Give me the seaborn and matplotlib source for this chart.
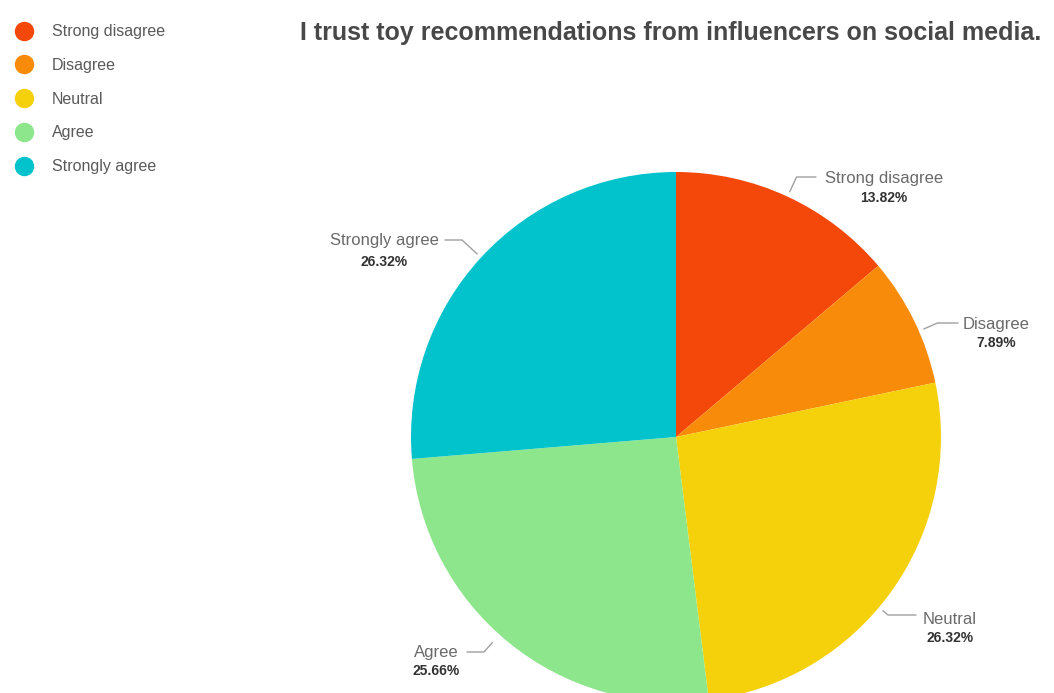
import numpy as np
import matplotlib
matplotlib.use("Agg")
import matplotlib.pyplot as plt
from matplotlib.lines import Line2D
import seaborn as sns

categories = ["Strong disagree", "Disagree", "Neutral", "Agree", "Strongly agree"]
percentages = [13.82, 7.89, 26.32, 25.66, 26.32]
pct_labels = ["13.82%", "7.89%", "26.32%", "25.66%", "26.32%"]
colors = ["#F4480A", "#F98B0A", "#F5D10C", "#8DE68B", "#02C3CB"]
title = "I trust toy recommendations from influencers on social media."

sns.set_theme(style="white")
plt.rcParams["font.family"] = ["Liberation Sans", "DejaVu Sans"]

W, H = 1054, 693
fig = plt.figure(figsize=(W / 100, H / 100), dpi=100)
fig.patch.set_facecolor("white")

# pie geometry in reference pixels
cx, cy, R = 676, 437, 265
ax = fig.add_axes([(cx - R) / W, (H - cy - R) / H, 2 * R / W, 2 * R / H])
ax.axis("off")

wedges, _ = ax.pie(percentages, colors=colors, startangle=90, counterclock=False,
                   radius=1.0, wedgeprops=dict(linewidth=0))
ax.set_xlim(-1, 1)
ax.set_ylim(-1, 1)
ax.set_aspect("equal")


def px2d(px, py):
    return ((px - cx) / R, (cy - py) / R)


# label layout: line end px, name center px, pct center px, anchor angle shift, anchor radius
layout = [
    ((816, 177), (884, 178), (884, 198), 0.0, 1.02),
    ((958, 323), (996, 324), (996, 343), -2.5, 1.02),
    ((916, 615), (950, 619), (950, 638), -4.5, 1.02),
    ((467, 652), (436, 652), (436, 671), -2.7, 1.04),
    ((445, 240), (384, 241), (384, 262), 0.0, 1.02),
]
line_color = "#a0a0a0"
for w, (lend, tname, tpct, dth, rr), name, pl in zip(wedges, layout, categories, pct_labels):
    theta = (w.theta1 + w.theta2) / 2.0 + dth
    ex, ey = rr * np.cos(np.radians(theta)), rr * np.sin(np.radians(theta))
    ax.annotate("", xy=(ex, ey), xytext=px2d(*lend), xycoords="data",
                textcoords="data",
                arrowprops=dict(arrowstyle="-", color=line_color, lw=1.0,
                                shrinkA=0, shrinkB=0,
                                connectionstyle=f"angle,angleA=0,angleB={theta:.1f},rad=0"),
                annotation_clip=False)
    ax.text(*px2d(*tname), name, ha="center", va="center", fontsize=12,
            color="#6a6a6a", clip_on=False)
    ax.text(*px2d(*tpct), pl, ha="center", va="center", fontsize=10,
            color="#333333", fontweight="bold", clip_on=False)

fig.text(300 / W, 1 - 33 / H, title, ha="left", va="center", fontsize=18,
         fontweight="bold", color="#484848")

handles = [Line2D([0], [0], marker="o", linestyle="none", markersize=13,
                  markerfacecolor=c, markeredgecolor=c) for c in colors]
fig.legend(handles, categories, loc="upper left",
           bbox_to_anchor=(8 / W, 1 - 18 / H), frameon=False, fontsize=11.5,
           labelspacing=1.17, handletextpad=1.15, handlelength=1.2,
           labelcolor="#5a5a5a", borderaxespad=0)

fig.savefig("out.png", dpi=100, facecolor="white")
